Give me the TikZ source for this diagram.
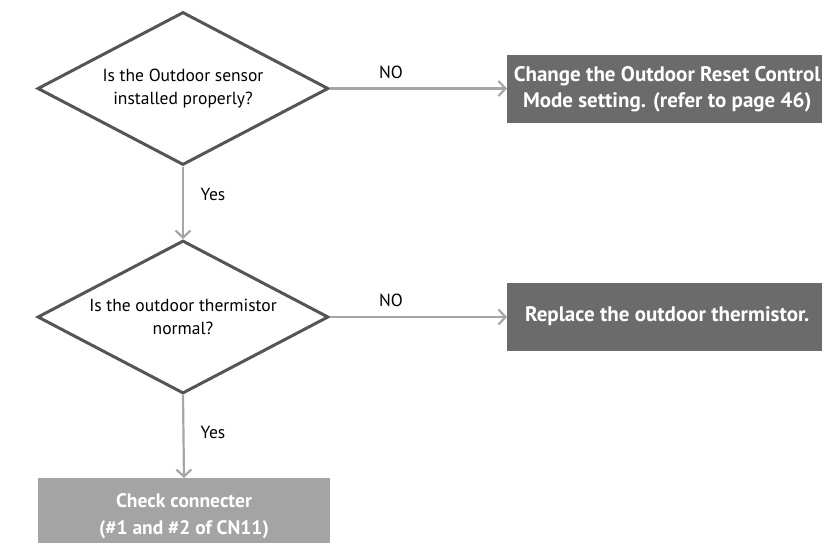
\documentclass[tikz,border=0pt]{standalone}
\usepackage{fontspec}
\setmainfont{PT Sans}
\usetikzlibrary{shapes.geometric,arrows.meta}
\definecolor{darkbox}{HTML}{6B6B6B}
\definecolor{lightbox}{HTML}{A4A4A4}
\definecolor{flowline}{HTML}{A6A6A6}
\definecolor{edgeline}{HTML}{555555}
\tikzset{
  question/.style={diamond, draw=edgeline, line width=3pt, aspect=1.9,
    minimum width=291pt, minimum height=153pt, inner sep=0pt,
    align=center, font=\fontsize{17.5}{23}\selectfont},
  action/.style={fill=darkbox, text=white, minimum width=320pt, minimum height=68pt,
    inner sep=0pt, align=center, font=\fontsize{21}{26}\selectfont\bfseries},
  finalbox/.style={fill=lightbox, text=white, minimum width=292pt, minimum height=76pt,
    inner sep=0pt, align=center, font=\fontsize{19.5}{27}\selectfont\bfseries},
  flow/.style={draw=flowline, line width=2.2pt, -{Straight Barb[length=7pt,width=15pt,line width=2.2pt]}},
  lbl/.style={font=\fontsize{17.5}{20}\selectfont, inner sep=0pt}
}
\begin{document}
\begin{tikzpicture}[x=1pt,y=-1pt]
\clip (0,0) rectangle (822,542);
\useasboundingbox (0,0) rectangle (822,542);
\node[question] (q1) at (183,88.5) {Is the Outdoor sensor\\installed properly?};
\node[question] (q2) at (183,317) {Is the outdoor thermistor\\normal?};
\node[action, anchor=west] (a1) at (507,89) {Change the Outdoor Reset Control\\Mode setting. (refer to page 46)};
\node[action, anchor=west] (a2) at (507,316.5) {Replace the outdoor thermistor.};
\node[finalbox, anchor=north] (a3) at (184,478) {Check connecter\\(\#1 and \#2 of CN11)};
\draw[flow] (q1.east) -- (a1.west |- q1.east);
\draw[flow] (q2.east) -- (a2.west |- q2.east);
\draw[flow] (q1.south) -- (q2.north);
\draw[flow] (q2.south) -- (a3.north);
\node[lbl] (no1) at (391,72) {NO};
\node[lbl] (no2) at (391,300) {NO};
\node[lbl] (yes1) at (213,194) {Yes};
\node[lbl] (yes2) at (213,432) {Yes};
\end{tikzpicture}
\end{document}
